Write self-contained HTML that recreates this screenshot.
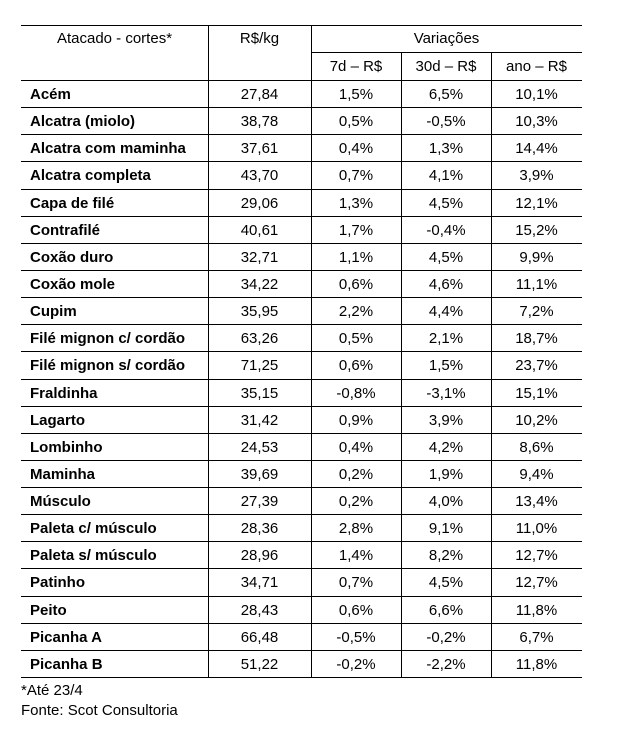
<!DOCTYPE html>
<html><head><meta charset="utf-8"><style>
body{margin:0;background:#fff;width:617px;height:731px;position:relative;font-family:"Liberation Sans",sans-serif;color:#000;overflow:hidden}
.h{position:absolute;height:1px;background:#000}
.v{position:absolute;width:1px;background:#000}
.t{position:absolute;font-size:15px;line-height:16px;white-space:nowrap}
.b{font-weight:bold}
.c{text-align:center}
</style></head><body>
<div class="h" style="left:21px;width:561px;top:25px"></div>
<div class="h" style="left:311px;width:271px;top:52px"></div>
<div class="v" style="left:208px;top:25px;height:652px"></div>
<div class="v" style="left:311px;top:25px;height:652px"></div>
<div class="v" style="left:401px;top:52px;height:625px"></div>
<div class="v" style="left:491px;top:52px;height:625px"></div>
<div class="t c" style="left:21px;width:187px;top:31px">Atacado - cortes*</div>
<div class="t c" style="left:208px;width:103px;top:31px">R$/kg</div>
<div class="t c" style="left:311px;width:271px;top:31px">Variações</div>
<div class="t c" style="left:311px;width:90px;top:59px">7d – R$</div>
<div class="t c" style="left:401px;width:90px;top:59px">30d – R$</div>
<div class="t c" style="left:491px;width:91px;top:59px">ano – R$</div>
<div id="rows"></div>
<div class="t" style="left:21px;top:683px">*Até 23/4</div>
<div class="t" style="left:21px;top:703px">Fonte: Scot Consultoria</div>
<script>
var d=[["Acém","27,84","1,5%","6,5%","10,1%"],["Alcatra (miolo)","38,78","0,5%","-0,5%","10,3%"],["Alcatra com maminha","37,61","0,4%","1,3%","14,4%"],["Alcatra completa","43,70","0,7%","4,1%","3,9%"],["Capa de filé","29,06","1,3%","4,5%","12,1%"],["Contrafilé","40,61","1,7%","-0,4%","15,2%"],["Coxão duro","32,71","1,1%","4,5%","9,9%"],["Coxão mole","34,22","0,6%","4,6%","11,1%"],["Cupim","35,95","2,2%","4,4%","7,2%"],["Filé mignon c/ cordão","63,26","0,5%","2,1%","18,7%"],["Filé mignon s/ cordão","71,25","0,6%","1,5%","23,7%"],["Fraldinha","35,15","-0,8%","-3,1%","15,1%"],["Lagarto","31,42","0,9%","3,9%","10,2%"],["Lombinho","24,53","0,4%","4,2%","8,6%"],["Maminha","39,69","0,2%","1,9%","9,4%"],["Músculo","27,39","0,2%","4,0%","13,4%"],["Paleta c/ músculo","28,36","2,8%","9,1%","11,0%"],["Paleta s/ músculo","28,96","1,4%","8,2%","12,7%"],["Patinho","34,71","0,7%","4,5%","12,7%"],["Peito","28,43","0,6%","6,6%","11,8%"],["Picanha A","66,48","-0,5%","-0,2%","6,7%"],["Picanha B","51,22","-0,2%","-2,2%","11,8%"]];
var h="",P=(677-80)/22;
var xs=[[208,103],[311,90],[401,90],[491,91]];
for(var i=0;i<=22;i++){h+='<div class="h" style="left:21px;width:561px;top:'+Math.round(80+i*P)+'px"></div>';}
for(var i=0;i<22;i++){var y=Math.round(80+i*P+7);var r=d[i];
h+='<div class="t b" style="left:30px;top:'+y+'px">'+r[0]+'</div>';
for(var j=0;j<4;j++)h+='<div class="t c" style="left:'+xs[j][0]+'px;width:'+xs[j][1]+'px;top:'+y+'px">'+r[j+1]+'</div>';}
document.getElementById("rows").innerHTML=h;
</script>
</body></html>
